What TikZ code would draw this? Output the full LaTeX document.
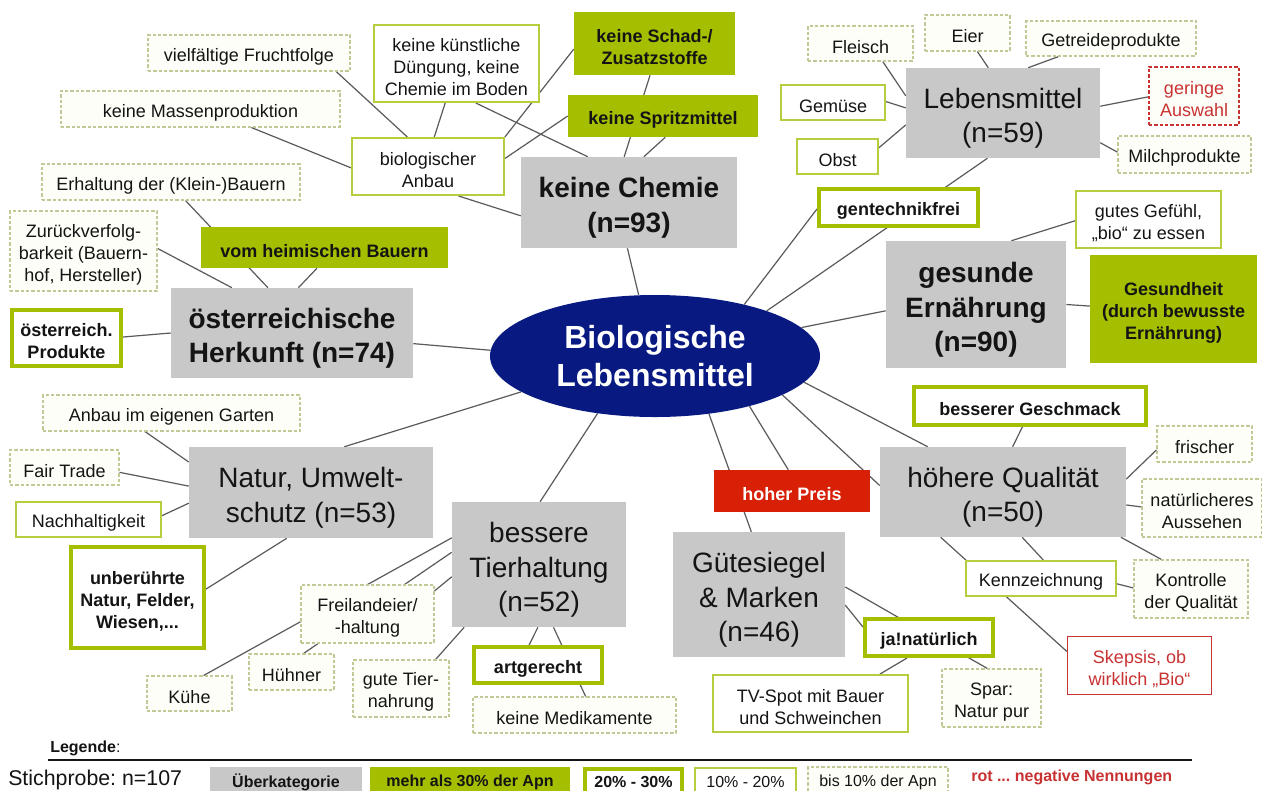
\documentclass[tikz,border=0pt]{standalone}
\usepackage{fontspec}
\setmainfont{Liberation Sans}
\usetikzlibrary{shapes.geometric}
\pgfdeclarelayer{edges}
\pgfsetlayers{edges,main}
\frenchspacing

\definecolor{catgray}{RGB}{200,200,200}
\definecolor{leafgreen}{RGB}{165,190,0}
\definecolor{leaflight}{RGB}{182,205,62}
\definecolor{dashc}{RGB}{196,199,150}
\definecolor{cream}{RGB}{254,254,248}
\definecolor{negred}{RGB}{200,50,50}
\definecolor{firered}{RGB}{215,32,5}
\definecolor{corenavy}{RGB}{8,26,130}
\definecolor{linegray}{RGB}{90,90,90}
\definecolor{ink}{RGB}{20,20,20}

\newcommand\fsmall{\fontsize{13.5}{16.5}\selectfont}
\newcommand\fbig{\fontsize{21}{26}\selectfont}
\newcommand\fcore{\fontsize{24}{28.5}\selectfont}
\newcommand\flegend{\fontsize{12}{14}\selectfont}
% invisible strut that lowers the first text line a little
\newcommand\upstrut{\rule{0pt}{1.1em}}

\tikzset{
  sz/.style 2 args={minimum width={0.75*#1pt}, minimum height={0.75*#2pt}},
  nd/.style={rectangle, align=center, inner sep=0pt, font=\fsmall, text=ink},
  cat/.style={nd, fill=catgray, font=\fbig},
  catb/.style={nd, fill=catgray, font=\fbig\bfseries},
  lvlA/.style={nd, fill=leafgreen, font=\fsmall\bfseries},
  lvlB/.style={nd, draw=leafgreen, line width=3pt, fill=white, font=\fsmall\bfseries},
  lvlC/.style={nd, draw=leaflight, line width=1.5pt, fill=white},
  lvlD/.style={nd, draw=dashc, dash pattern=on 2.5pt off 1.5pt, line width=0.8pt, fill=cream},
  core/.style={ellipse, inner sep=0pt, fill=corenavy, text=white, align=center, font=\fcore\bfseries},
  conn/.style={draw=linegray, line width=0.9pt},
}

\begin{document}
\begin{tikzpicture}[x=0.75pt,y=-0.75pt]
\useasboundingbox (0,0) rectangle (1262,790);

% centre
\node[core, sz={330}{122}] (C) at (655,356) {Biologische\\Lebensmittel};

% keine Chemie
\node[lvlD, sz={202}{36}] (vff) at (249,53) {\upstrut vielfältige Fruchtfolge};
\node[lvlD, sz={279}{36}] (kmp) at (200.5,109) {\upstrut keine Massenproduktion};
\node[lvlC, sz={165}{77}] (kkd) at (456.5,63.5) {\upstrut keine künstliche\\Düngung, keine\\Chemie im Boden};
\node[lvlC, sz={152}{57}] (bio) at (428,166.5) {\upstrut biologischer\\Anbau};
\node[lvlA, sz={161}{63}] (ksz) at (654.5,43.5) {\upstrut keine Schad-/\\Zusatzstoffe};
\node[lvlA, sz={190}{42}] (ksp) at (663,116) {\upstrut keine Spritzmittel};
\node[catb, sz={216}{91}] (kch) at (629,202.5) {\upstrut keine Chemie\\(n=93)};

% Herkunft
\node[lvlD, sz={258}{36}] (erh) at (171,182) {\upstrut Erhaltung der (Klein-)Bauern};
\node[lvlD, sz={147}{80}] (zur) at (83.5,251) {\upstrut Zurückverfolg-\\barkeit (Bauern-\\hof, Hersteller)};
\node[lvlA, sz={247}{41}] (vhb) at (324.5,247.5) {\upstrut vom heimischen Bauern};
\node[catb, sz={242}{90}] (oeh) at (292,333) {\upstrut österreichische\\Herkunft (n=74)};
\node[lvlB, sz={109}{56}] (oep) at (66.5,338) {\upstrut österreich.\\Produkte};

% Lebensmittel
\node[lvlD, sz={105}{35}] (fle) at (860.5,43.5) {\upstrut Fleisch};
\node[lvlD, sz={85}{36}] (eie) at (967.5,33) {\upstrut Eier};
\node[lvlD, sz={170}{35}] (get) at (1111,38.5) {\upstrut Getreideprodukte};
\node[lvlC, sz={104}{35}] (gem) at (833,102.5) {\upstrut Gemüse};
\node[lvlC, sz={81}{35}] (obs) at (837.5,156.5) {\upstrut Obst};
\node[cat, sz={194}{90}] (leb) at (1003,113) {\upstrut Lebensmittel\\(n=59)};
\node[lvlD, draw=negred, text=negred, sz={90}{58}] (ger) at (1194,96) {\upstrut geringe\\Auswahl};
\node[lvlD, sz={133}{37}] (mil) at (1184.5,154.5) {\upstrut Milchprodukte};
\node[lvlB, sz={159}{37}] (gen) at (898.5,207.5) {\upstrut gentechnikfrei};

% Ernährung
\node[lvlC, sz={145}{57}] (gut) at (1148.5,219.5) {\upstrut gutes Gefühl,\\„bio“ zu essen};
\node[catb, sz={180}{127}] (ges) at (976,304.5) {\upstrut gesunde\\Ernährung\\(n=90)};
\node[lvlA, sz={167}{108}] (gsh) at (1173.5,309) {\upstrut Gesundheit\\(durch bewusste\\Ernährung)};

% Natur
\node[lvlD, sz={257}{36}] (aeg) at (171.5,413) {\upstrut Anbau im eigenen Garten};
\node[lvlD, sz={109}{35}] (fai) at (64.5,467.5) {\upstrut Fair Trade};
\node[lvlC, sz={145}{35}] (nac) at (88.5,519.5) {\upstrut Nachhaltigkeit};
\node[lvlB, sz={133}{101}] (unb) at (137.5,597.5) {\upstrut unberührte\\Natur, Felder,\\Wiesen,...};
\node[cat, sz={244}{91}] (nat) at (311,492.5) {\upstrut Natur, Umwelt-\\schutz (n=53)};

% Tierhaltung
\node[lvlD, sz={133}{58}] (fre) at (367.5,614) {\upstrut Freilandeier/\\-haltung};
\node[lvlD, sz={85}{35}] (kue) at (189.5,693.5) {\upstrut Kühe};
\node[lvlD, sz={85}{36}] (hue) at (291.5,672) {\upstrut Hühner};
\node[lvlD, sz={96}{57}] (gtn) at (401,688.5) {\upstrut gute Tier-\\nahrung};
\node[cat, sz={174}{125}] (tie) at (539,564.5) {\upstrut bessere\\Tierhaltung\\(n=52)};
\node[lvlB, sz={128}{36}] (art) at (538,665) {\upstrut artgerecht};
\node[lvlD, sz={203}{36}] (kme) at (574.5,715) {\upstrut keine Medikamente};

% Gütesiegel
\node[nd, fill=firered, text=white, font=\fsmall\bfseries, sz={156}{42}] (hop) at (792,491) {\upstrut hoher Preis};
\node[cat, sz={172}{125}] (gue) at (759,594.5) {\upstrut Gütesiegel\\\& Marken\\(n=46)};
\node[lvlC, sz={195}{57}] (tvs) at (810.5,703.5) {\upstrut TV-Spot mit Bauer\\und Schweinchen};
\node[lvlB, sz={128}{37}] (jan) at (929,637.5) {\upstrut ja!natürlich};
\node[lvlD, sz={99}{58}] (spa) at (991.5,698) {\upstrut Spar:\\Natur pur};

% Qualität
\node[lvlB, sz={232}{38}] (bge) at (1030,406) {\upstrut besserer Geschmack};
\node[cat, sz={246}{90}] (hqu) at (1003,492) {\upstrut höhere Qualität\\(n=50)};
\node[lvlD, sz={95}{36}] (fri) at (1204.5,444) {\upstrut frischer};
\node[lvlD, sz={120}{58}] (nae) at (1202,508) {\upstrut natürlicheres\\Aussehen};
\node[lvlC, sz={150}{35}] (ken) at (1041,578.5) {\upstrut Kennzeichnung};
\node[lvlD, sz={114}{58}] (kon) at (1191,589) {\upstrut Kontrolle\\der Qualität};
\node[nd, draw=negred, line width=1.2pt, fill=white, text=negred, sz={144}{58}] (ske) at (1139.5,665.5) {\upstrut Skepsis, ob\\wirklich „Bio“};

% connectors, kept underneath the boxes
\begin{pgfonlayer}{edges}
\fill[white] (0,0) rectangle (1262,790);
\draw[conn] (vff.-12.2) -- (bio.125.4);
\draw[conn] (kmp.-20.8) -- (bio.181.1);
\draw[conn] (kkd.-106.2) -- (bio.78.5);
\draw[conn] (ksz.184.6) -- (bio.21);
\draw[conn] (ksp.180.6) -- (bio.6.3);
\draw[conn] (kkd.-64.9) -- (kch.132);
\draw[conn] (ksz.-98.1) -- (kch.96.3);
\draw[conn] (ksp.-84.6) -- (kch.72.9);
\draw[conn] (bio.-44.5) -- (kch.187.6);
\draw[conn] (kch.-92.5) -- (C.105.6);

\draw[conn] (erh.-52.1) -- (oeh.118.1);
\draw[conn] (vhb.-110.1) -- (oeh.82.4);
\draw[conn] (zur.2.3) -- (oeh.143.1);
\draw[conn] (oep.1) -- (oeh.180);
\draw[conn] (oeh.-5.7) -- (C.178.6);

\draw[conn] (fle.-39.1) -- (leb.170.6);
\draw[conn] (eie.-62.2) -- (leb.108.4);
\draw[conn] (get.-161.1) -- (leb.61.9);
\draw[conn] (gem.1.6) -- (leb.177.6);
\draw[conn] (obs.12.9) -- (leb.187.6);
\draw[conn] (ger.181.3) -- (leb.4.1);
\draw[conn] (mil.178.7) -- (leb.-17.2);
\draw[conn] (C.22.3) -- (leb.-109.6);
\draw[conn] (C.30.2) -- (gen.181.8);

\draw[conn] (C.11.1) -- (ges.184.8);
\draw[conn] (gut.181.2) -- (ges.61.8);
\draw[conn] (gsh.178) -- (ges.-0.3);

\draw[conn] (C.-10.1) -- (hqu.149);
\draw[conn] (C.-17.9) -- (hqu.177.5);
\draw[conn] (C.-28) -- (hop.100.8);
\draw[conn] (C.-47.9) -- (gue.97.3);
\draw[conn] (C.-135.5) -- (tie.89);
\draw[conn] (C.-165.6) -- (nat.54.9);

\draw[conn] (aeg.-145.8) -- (nat.166.4);
\draw[conn] (fai.-5.8) -- (nat.177.4);
\draw[conn] (nac.3.5) -- (nat.185.4);
\draw[conn] (unb.7.9) -- (nat.-118.8);

\draw[conn] (kue.52.4) -- (tie.163.1);
\draw[conn] (hue.57.4) -- (tie.172.5);
\draw[conn] (fre.19.1) -- (tie.188.2);
\draw[conn] (gtn.40) -- (tie.-140.6);
\draw[conn] (tie.-91.8) -- (art.114.2);
\draw[conn] (tie.-77.4) -- (kme.59.7);

\draw[conn] (gue.-7) -- (jan.171);
\draw[conn] (gue.5.6) -- (spa.98.8);
\draw[conn] (tvs.23) -- (jan.-137);

\draw[conn] (bge.-110.9) -- (hqu.78.7);
\draw[conn] (fri.187.2) -- (hqu.6.5);
\draw[conn] (nae.179) -- (hqu.-6);
\draw[conn] (hqu.-21.4) -- (kon.135);
\draw[conn] (hqu.-67.1) -- (ken.83.8);
\draw[conn] (hqu.-144.9) -- (ske.169.5);
\draw[conn] (ken.-4.1) -- (kon.179);
\end{pgfonlayer}

% legend
\begin{scope}
\clip (0,0) rectangle (1262,790);
\node[anchor=west, inner sep=0pt, font=\flegend, text=ink] (lgd) at (50,748) {\bfseries Legende\mdseries :};
\draw[line width=2.2pt, draw=ink] (48,760) -- (1192,760);
\node[anchor=base west, inner sep=0pt, font=\fontsize{16}{18}\selectfont, text=ink] (smp) at (8,785) {Stichprobe: n=107};
\node[nd, fill=catgray, font=\flegend\bfseries, sz={152}{30}] (k1) at (286,782) {Überkategorie};
\node[lvlA, font=\flegend\bfseries, sz={200}{30}] (k2) at (470,782) {mehr als 30\% der Apn};
\node[lvlB, font=\flegend\bfseries, sz={97}{26}] (k3) at (633.5,782) {20\% - 30\%};
\node[lvlC, font=\flegend, sz={101}{28}] (k4) at (745.5,782) {10\% - 20\%};
\node[lvlD, font=\flegend, sz={140}{30}] (k5) at (878,782) {bis 10\% der Apn};
\node[anchor=west, inner sep=0pt, font=\flegend\bfseries, text=negred] (k6) at (971,777) {rot ... negative Nennungen};
\end{scope}
\end{tikzpicture}
\end{document}
